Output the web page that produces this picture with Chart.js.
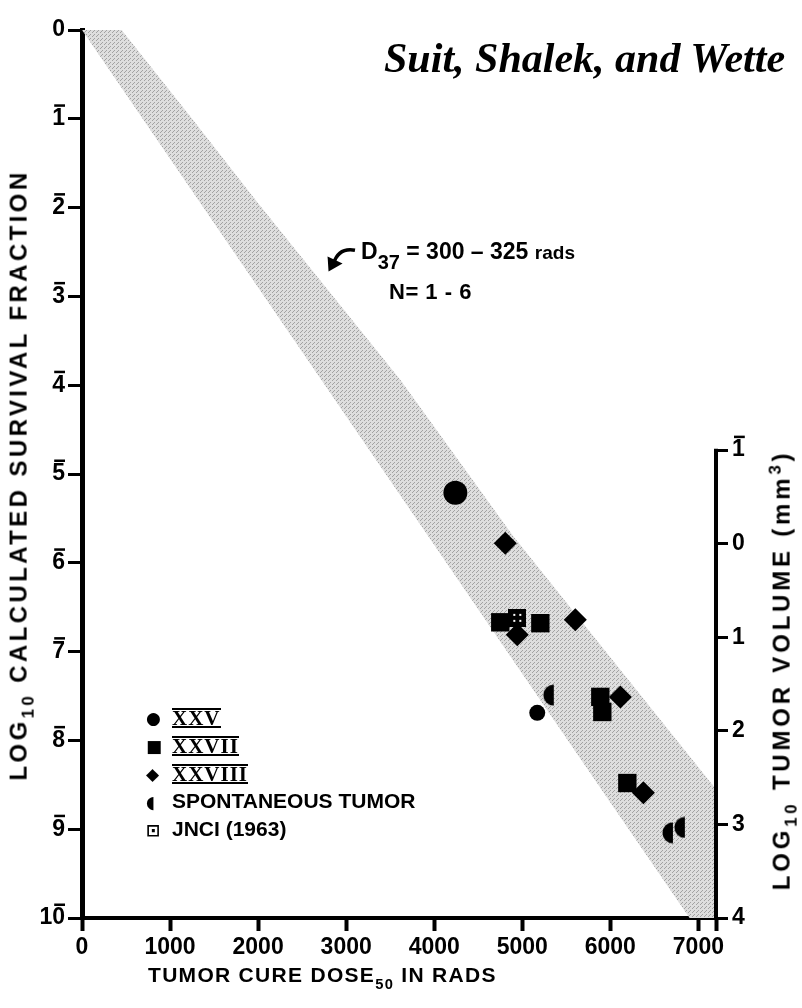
<!DOCTYPE html>
<html lang="en">
<head>
  <meta charset="UTF-8" />
  <title>Suit, Shalek, and Wette</title>
  <style>
    body { margin: 0; background: #fff; }
    #wrap { position: relative; width: 802px; height: 1008px; font-family: 'Liberation Sans', Arial, sans-serif; color: #000; }
    #chart { position: absolute; left: 0; top: 0; }
    .t { position: absolute; font-weight: bold; white-space: nowrap; line-height: 1; }
    .title { left: 384px; top: 37px; font-family: 'Liberation Serif', serif; font-style: italic; font-size: 42px; }
    .d37 { left: 361px; top: 240px; font-size: 23px; }
    .d37 sub { font-size: 20px; vertical-align: -10px; }
    .d37 .rads { font-size: 19px; }
    .nn { left: 389px; top: 281px; font-size: 22px; letter-spacing: 0.5px; }
    .ytitle { left: 22px; top: 475px; font-size: 24px; letter-spacing: 3.4px; transform: translate(-50%, -50%) rotate(-90deg); }
    .y2title { left: 784px; top: 670px; font-size: 24px; letter-spacing: 3.8px; transform: translate(-50%, -50%) rotate(-90deg); }
    .xtitle { left: 148px; top: 964px; font-size: 21px; letter-spacing: 1.3px; }
    sub { font-size: 70%; vertical-align: -7px; }
    sup { font-size: 70%; vertical-align: 9px; }
    .legend { position: absolute; left: 146px; top: 703px; font-size: 21px; font-weight: bold; }
    .legend div { height: 28px; line-height: 28px; white-space: nowrap; }
    .legend .m { display: inline-block; width: 26px; text-align: left; font-family: 'DejaVu Sans', sans-serif; font-size: 17px; }
    .legend .rn { display: inline-block; font-family: 'Liberation Serif', serif; font-size: 21px; line-height: 16px;
                  border-top: 2px solid #000; border-bottom: 2px solid #000; letter-spacing: 1px; vertical-align: middle; }
  </style>
</head>
<body>
  <div id="wrap">
    <canvas id="chart" width="802" height="1008"></canvas>
    <div class="t title">Suit, Shalek, and Wette</div>
    <div class="t d37">D<sub>37</sub> = 300 – 325 <span class="rads">rads</span></div>
    <div class="t nn">N= 1 - 6</div>
    <div class="t ytitle">LOG<sub>10</sub> CALCULATED SURVIVAL FRACTION</div>
    <div class="t y2title">LOG<sub>10</sub> TUMOR VOLUME (mm<sup>3</sup>)</div>
    <div class="t xtitle">TUMOR CURE DOSE<sub>50</sub> IN RADS</div>
    <div class="legend">
      <div><span class="m">●</span><span class="rn">XXV</span></div>
      <div><span class="m">■</span><span class="rn">XXVII</span></div>
      <div><span class="m">◆</span><span class="rn">XXVIII</span></div>
      <div><span class="m">◖</span>SPONTANEOUS TUMOR</div>
      <div><span class="m">⊡</span>JNCI (1963)</div>
    </div>
  </div>

  <script src="https://cdn.jsdelivr.net/npm/chart.js"></script>
  <script>
    // axes (bar = negative characteristic, drawn over the last digit)
    const xTickValues = [0, 1000, 2000, 3000, 4000, 5000, 6000, 7000, 7200];
    const xTickLabels = ['0', '1000', '2000', '3000', '4000', '5000', '6000', '7000', ''];
    const yTickValues = [0, 1, 2, 3, 4, 5, 6, 7, 8, 9, 10];
    const yTickLabels = ['0', '1', '2', '3', '4', '5', '6', '7', '8', '9', '10'];
    const yTickBar = [false, true, true, true, true, true, true, true, true, true, true];
    const y2TickValues = [-1, 0, 1, 2, 3, 4];
    const y2TickLabels = ['1', '0', '1', '2', '3', '4'];
    const y2TickBar = [true, false, false, false, false, false];

    // points: dose (rads) and -log10 survival fraction
    const xxvDose = [4240, 5170];
    const xxvLog = [5.21, 7.69];
    const xxviiDose = [4750, 5205, 5886, 5909, 6193];
    const xxviiLog = [6.67, 6.68, 7.51, 7.68, 8.48];
    const xxviiiDose = [4807, 4943, 5602, 6114, 6375];
    const xxviiiLog = [5.78, 6.81, 6.64, 7.51, 8.59];
    const spontDose = [5295, 6648, 6784];
    const spontLog = [7.49, 9.04, 8.98];
    const jnciDose = [4943];
    const jnciLog = [6.62];

    // shaded band outline (D37 300-325 rads, N 1-6)
    const bandDose = [60, 450, 1250, 2000, 3614, 4898, 7200, 7200, 6900, 6000, 4000, 2000, 1000, 0];
    const bandLog = [0, 0, 1.0, 1.95, 3.94, 5.7, 8.55, 10, 10, 8.7, 5.8, 2.9, 1.45, 0];

    // arrow of the D37 note, from text to band
    const arrowFrom = [3100, 2.48];
    const arrowTo = [2800, 2.72];

    const pts = (xs, ys) => xs.map((x, i) => ({ x, y: ys[i] }));

    function halfDisk() {
      const c = document.createElement('canvas');
      c.width = 13; c.height = 22;
      const g = c.getContext('2d');
      g.fillStyle = '#000';
      g.beginPath(); g.arc(12, 11, 10.5, Math.PI / 2, Math.PI * 1.5); g.closePath(); g.fill();
      return c;
    }
    function jnciMark() {
      const c = document.createElement('canvas');
      c.width = 18; c.height = 18;
      const g = c.getContext('2d');
      g.fillStyle = '#000'; g.fillRect(0, 0, 18, 18);
      g.fillStyle = '#fff';
      [[5, 5], [11, 5], [5, 11], [11, 11]].forEach(p => g.fillRect(p[0], p[1], 2, 2));
      return c;
    }
    function bandPattern() {
      const c = document.createElement('canvas');
      c.width = 4; c.height = 4;
      const g = c.getContext('2d');
      g.fillStyle = '#dedede'; g.fillRect(0, 0, 4, 4);
      g.fillStyle = '#a2a2a2';
      g.fillRect(0, 0, 1, 1); g.fillRect(2, 2, 1, 1); g.fillRect(1, 3, 1, 1);
      return g.createPattern(c, 'repeat');
    }

    const tickFont = { family: "'Liberation Sans', Arial, sans-serif", size: 23, weight: 'bold' };

    function drawBars(ctx, scale, labels, bars, side) {
      const o = scale.options;
      const gap = o.grid.tickLength + o.ticks.padding;
      ctx.font = 'bold 23px "Liberation Sans", Arial, sans-serif';
      scale.ticks.forEach((t, i) => {
        if (!bars[i]) return;
        const y = scale.getPixelForTick(i) - 14.5;
        const w = ctx.measureText(labels[i].slice(-1)).width;
        let x1;
        if (side === 'left') x1 = scale.right - gap;
        else x1 = scale.left + gap + ctx.measureText(labels[i]).width;
        ctx.fillRect(x1 - w + 2, y, w - 2, 2.5);
      });
    }

    const extras = {
      id: 'extras',
      afterDraw(chart) {
        const { ctx, chartArea, scales } = chart;
        const y2 = scales.y2;
        ctx.save();
        ctx.fillStyle = '#000';
        drawBars(ctx, scales.y, yTickLabels, yTickBar, 'left');
        drawBars(ctx, y2, y2TickLabels, y2TickBar, 'right');
        ctx.strokeStyle = '#000';
        ctx.lineWidth = 4;
        ctx.beginPath();
        ctx.moveTo(chartArea.right, y2.getPixelForValue(-1) - 1.5);
        ctx.lineTo(chartArea.right, y2.getPixelForValue(4));
        ctx.stroke();
        // curved arrow
        const x0 = scales.x.getPixelForValue(arrowFrom[0]), y0 = scales.y.getPixelForValue(arrowFrom[1]);
        const x1 = scales.x.getPixelForValue(arrowTo[0]), y1 = scales.y.getPixelForValue(arrowTo[1]);
        ctx.lineWidth = 3.5;
        ctx.beginPath();
        ctx.moveTo(x0, y0);
        ctx.quadraticCurveTo(x1 + 10, y0 - 3, x1 + 5, y1 - 8);
        ctx.stroke();
        ctx.beginPath();
        ctx.moveTo(x1, y1);
        ctx.lineTo(x1 - 1, y1 - 15);
        ctx.lineTo(x1 + 14, y1 - 8);
        ctx.closePath();
        ctx.fill();
        ctx.restore();
      }
    };

    new Chart(document.getElementById('chart'), {
      type: 'scatter',
      data: {
        datasets: [
          { label: 'JNCI (1963)', data: pts(jnciDose, jnciLog), pointStyle: jnciMark(), order: 0 },
          { label: 'XXV', data: pts(xxvDose, xxvLog), pointStyle: 'circle', pointRadius: [12, 8], backgroundColor: '#000', borderWidth: 0, order: 1 },
          { label: 'XXVII', data: pts(xxviiDose, xxviiLog), pointStyle: 'rect', pointRadius: 13, backgroundColor: '#000', borderWidth: 0, order: 2 },
          { label: 'XXVIII', data: pts(xxviiiDose, xxviiiLog), pointStyle: 'rectRot', pointRadius: 11.5, backgroundColor: '#000', borderWidth: 0, order: 3 },
          { label: 'SPONTANEOUS TUMOR', data: pts(spontDose, spontLog), pointStyle: halfDisk(), order: 4 },
          { label: 'band', data: pts(bandDose, bandLog), showLine: true, fill: 'shape', backgroundColor: bandPattern(),
            borderWidth: 0, pointRadius: 0, tension: 0, order: 10 }
        ]
      },
      options: {
        responsive: false,
        animation: false,
        events: [],
        layout: { padding: { top: 30, left: 0, right: 0, bottom: 0 } },
        plugins: { legend: { display: false }, tooltip: { enabled: false }, title: { display: false } },
        scales: {
          x: {
            type: 'linear', min: 0, max: 7200,
            afterBuildTicks: s => { s.ticks = xTickValues.map(v => ({ value: v })); },
            afterFit: s => { s.height = 90; },
            ticks: { callback: (v, i) => xTickLabels[i], font: tickFont, color: '#000', padding: 3, autoSkip: false, maxRotation: 0 },
            grid: { drawOnChartArea: false, drawTicks: true, tickLength: 13, tickWidth: 4, tickColor: '#000' },
            border: { display: true, color: '#000', width: 4 }
          },
          y: {
            type: 'linear', reverse: true, min: 0, max: 10,
            afterBuildTicks: s => { s.ticks = yTickValues.map(v => ({ value: v })); },
            afterFit: s => { s.width = 82; },
            ticks: { callback: (v, i) => yTickLabels[i], font: tickFont, color: '#000', padding: 3, autoSkip: false },
            grid: { drawOnChartArea: false, drawTicks: true, tickLength: 14, tickWidth: 3, tickColor: '#000' },
            border: { display: true, color: '#000', width: 5 }
          },
          y2: {
            type: 'linear', position: 'right', reverse: true, min: -5.49, max: 4,
            afterBuildTicks: s => { s.ticks = y2TickValues.map(v => ({ value: v })); },
            afterFit: s => { s.width = 86; },
            ticks: { callback: (v, i) => y2TickLabels[i], font: tickFont, color: '#000', padding: 4, autoSkip: false },
            grid: { drawOnChartArea: false, drawTicks: true, tickLength: 12, tickWidth: 3, tickColor: '#000' },
            border: { display: false }
          }
        }
      },
      plugins: [extras]
    });
  </script>
</body>
</html>
